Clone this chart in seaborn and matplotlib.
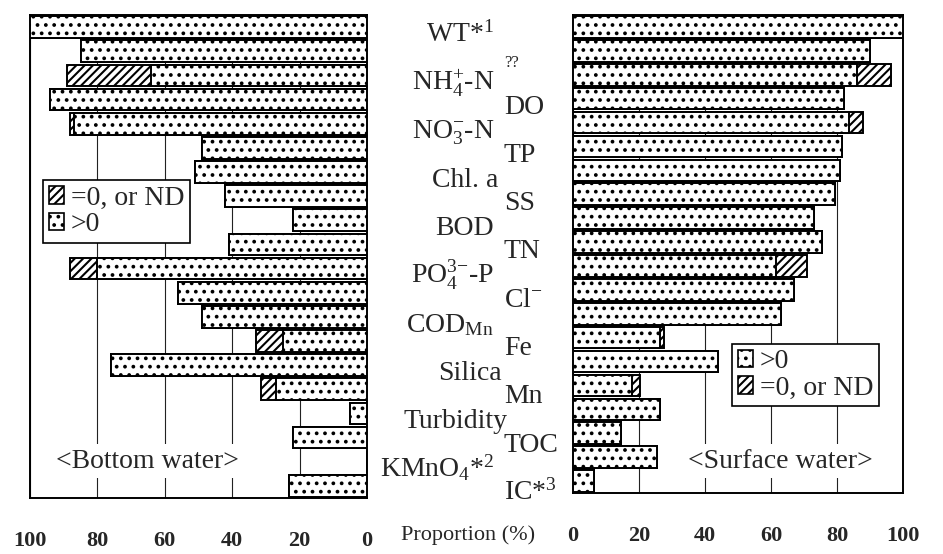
import matplotlib
matplotlib.use("Agg")
import matplotlib.pyplot as plt
import seaborn as sns
import numpy as np
import pandas as pd
from matplotlib.patches import Patch
from matplotlib.transforms import blended_transform_factory

# ---------------- data ----------------
categories = ["WT", "??", "NH4-N", "DO", "NO3-N", "TP", "Chl. a", "SS", "BOD", "TN",
              "PO4-P", "Cl", "CODMn", "Fe", "Silica", "Mn", "Turbidity", "TOC", "KMnO4", "IC"]
display_labels = ["WT*$^{1}$", "??", "NH$_{4}^{+}$-N", "DO", "NO$_{3}^{-}$-N", "TP", "Chl. a", "SS",
                  "BOD", "TN", "PO$_{4}^{3{-}}$-P", "Cl$^{-}$", "COD$_{\\mathrm{Mn}}$", "Fe", "Silica",
                  "Mn", "Turbidity", "TOC", "KMnO$_{4}$*$^{2}$", "IC*$^{3}$"]
# Bottom water: proportion (%) of values > 0, and of values = 0 or ND
bottom_pos = [100, 85, 64, 94, 87, 49, 51, 42, 22, 41, 80, 56, 49, 25, 76, 27, 5, 22, 0, 23]
bottom_zero = [0, 0, 25, 0, 1.2, 0, 0, 0, 0, 0, 8, 0, 0, 8, 0, 4.5, 0, 0, 0, 0]
# Surface water
surface_pos = [100, 90, 86, 82, 83.5, 81.5, 81, 79.5, 73, 75.5, 61.5, 67, 63, 26.5, 44, 18, 26.5, 14.5, 25.5, 6.5]
surface_zero = [0, 0, 10.5, 0, 4.5, 0, 0, 0, 0, 0, 9.5, 0, 0, 1.2, 0, 2.3, 0, 0, 0, 0]
tick_values = [0, 20, 40, 60, 80, 100]
legend_zero = "=0, or ND"
legend_pos = ">0"

# ---------------- style ----------------
sns.set_style("white")
plt.rcParams["font.family"] = ["Liberation Serif", "DejaVu Serif"]
plt.rcParams["mathtext.fontset"] = "custom"
plt.rcParams["mathtext.rm"] = "Liberation Serif"
plt.rcParams["mathtext.it"] = "Liberation Serif:italic"
plt.rcParams["mathtext.bf"] = "Liberation Serif:bold"
plt.rcParams["hatch.linewidth"] = 1.5
plt.rcParams["hatch.color"] = "black"

W, H = 943, 554
fig = plt.figure(figsize=(W / 100, H / 100), dpi=100)
axL = fig.add_axes([30 / W, 1 - 498 / H, 337 / W, 483 / H])
axR = fig.add_axes([573 / W, 1 - 493 / H, 330 / W, 478 / H])


def panel(ax, pos, zero):
    df = pd.DataFrame({"cat": categories, "pos": pos, "total": np.add(pos, zero)})
    common = dict(y="cat", order=categories, color="white", saturation=1,
                  edgecolor="black", linewidth=1.4, width=0.9, errorbar=None, ax=ax)
    sns.barplot(data=df, x="total", hatch="////", zorder=2, **common)
    sns.barplot(data=df, x="pos", hatch="..", zorder=3, **common)
    ax.set_ylim(len(categories) - 0.5, -0.5)
    ax.set_yticks([])
    ax.set_ylabel("")
    ax.set_xlabel("")
    ax.set_xticks(tick_values, labels=[str(v) for v in tick_values], fontweight="bold", fontsize=16)
    ax.tick_params(axis="x", length=0, pad=24)
    ax.set_axisbelow(True)
    ax.grid(axis="x", color="#222222", linewidth=0.8)
    ax.grid(axis="y", visible=False)
    for s in ax.spines.values():
        s.set_visible(True)
        s.set_color("black")
        s.set_linewidth(1.4)


panel(axL, bottom_pos, bottom_zero)
panel(axR, surface_pos, surface_zero)
axL.set_xlim(100, 0)
axR.set_xlim(0, 100)

h_zero = Patch(facecolor="white", edgecolor="black", hatch="////", linewidth=1.2)
h_pos = Patch(facecolor="white", edgecolor="black", hatch="..", linewidth=1.2)
leg_kw = dict(loc="upper left", fontsize=20, frameon=True, fancybox=False, framealpha=1,
              edgecolor="black", handlelength=0.55, handleheight=0.6, handletextpad=0.25,
              labelspacing=0.05, borderpad=0.2, borderaxespad=0)
legL = axL.legend([h_zero, h_pos], [legend_zero, legend_pos],
                  bbox_to_anchor=(0.0386, 0.658), **leg_kw)
legL.get_frame().set_linewidth(1.2)
legR = axR.legend([h_pos, h_zero], [legend_pos, legend_zero],
                  bbox_to_anchor=(0.482, 0.312), **leg_kw)
legR.get_frame().set_linewidth(1.2)

box = dict(facecolor="white", edgecolor="none", pad=3)
fig.text(147 / W, 1 - 461 / H, "<Bottom water>", fontsize=20, ha="center", va="center", bbox=box)
fig.text(780 / W, 1 - 461 / H, "<Surface water>", fontsize=20, ha="center", va="center", bbox=box)
fig.text(468 / W, 1 - 535 / H, "Proportion (%)", fontsize=16, ha="center", va="center")

# centre labels, alternating columns
trans = blended_transform_factory(fig.transFigure, axL.transData)
right_edges = {"Chl. a": 498, "Silica": 502, "Turbidity": 507}
for i, (cat, lab) in enumerate(zip(categories, display_labels)):
    if i % 2 == 0:
        xr = right_edges.get(cat, 494)
        fig.text(xr / W, i + 0.62, lab, transform=trans, fontsize=20, ha="right", va="baseline")
    else:
        size = 12 if cat == "??" else 20
        y = i + 0.66 if cat == "??" else i + 0.58
        fig.text(504 / W, y, lab, transform=trans, fontsize=size, ha="left", va="baseline")

fig.savefig("out.png", dpi=100)
